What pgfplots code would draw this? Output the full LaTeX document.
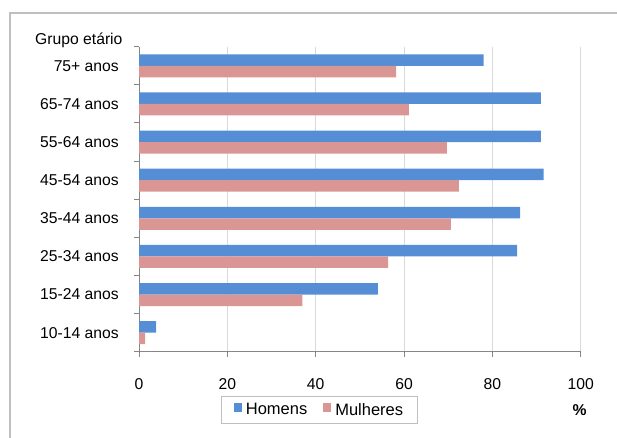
\documentclass[border=0pt]{standalone}
\usepackage{pgfplots}
\pgfplotsset{compat=1.18}
\usepackage{fontspec}
\setmainfont{Liberation Sans}
\definecolor{hom}{HTML}{558ED5}
\definecolor{mul}{HTML}{D99694}
\definecolor{gridc}{HTML}{D9D9D9}
\definecolor{axc}{HTML}{868686}
\definecolor{framec}{HTML}{BFBFBF}
\begin{document}
\begin{tikzpicture}[x=1pt,y=1pt]
\path[use as bounding box] (0,0) rectangle (617,437);
\begin{scope}
\clip (0,0) rectangle (617,437);
\draw[framec, line width=1.5pt] (10,-5) -- (10,424) -- (625,424);
\end{scope}
\node[anchor=base west, inner sep=0pt, font=\fontsize{15.7}{18}\selectfont] at (35,392.5) {Grupo etário};
\node[font=\bfseries\fontsize{15.7}{18}\selectfont] at (579.5,27) {\%};
\begin{axis}[
  at={(139pt,85.3pt)}, anchor=south west,
  scale only axis, width=441.7pt, height=305pt,
  xmin=0, xmax=100, ymin=-0.5, ymax=7.5,
  xtick={0,20,...,100},
  ytick={0,...,7},
  yticklabels={10-14 anos,15-24 anos,25-34 anos,35-44 anos,45-54 anos,55-64 anos,65-74 anos,75+ anos},
  minor ytick={-0.5,0.5,...,7.5},
  axis x line*=bottom, axis y line*=left,
  axis line style={axc, line width=1pt, -},
  tick align=outside,
  major tick length=5pt, minor tick length=5pt,
  every major y tick/.append style={draw=none},
  every minor y tick/.append style={axc, line width=1pt},
  every major x tick/.append style={axc, line width=1pt},
  xmajorgrids, grid style={gridc, line width=1pt},
  tick label style={font=\fontsize{15.7}{18}\selectfont},
  /pgf/number format/assume math mode=true,
  xticklabel style={anchor=center, yshift=-27pt},
  yticklabel style={anchor=east, inner sep=0pt, xshift=-15pt},
  legend columns=2,
  legend style={at={(0.4087,-0.191)}, anchor=center, draw=framec, line width=1pt,
    font=\fontsize{16.5}{19}\selectfont, inner xsep=12pt, inner ysep=5pt,
    /tikz/every odd column/.append style={column sep=2pt},
    /tikz/every even column/.append style={column sep=14pt}},
]
\addplot[xbar, bar width=11.5pt, bar shift=5.75pt, fill=hom, draw=none,
  legend image code/.code={\fill[hom] (0pt,-2.5pt) rectangle (8pt,6.5pt);}]
  coordinates {(3.9,0) (54.1,1) (85.6,2) (86.3,3) (91.6,4) (91.0,5) (91.0,6) (78.0,7)};
\addplot[xbar, bar width=11.5pt, bar shift=-5.75pt, fill=mul, draw=none,
  legend image code/.code={\fill[mul] (0pt,-2.5pt) rectangle (8pt,6.5pt);}]
  coordinates {(1.4,0) (37.0,1) (56.4,2) (70.6,3) (72.4,4) (69.7,5) (61.1,6) (58.2,7)};
\legend{Homens,Mulheres}
\end{axis}
\end{tikzpicture}
\end{document}
